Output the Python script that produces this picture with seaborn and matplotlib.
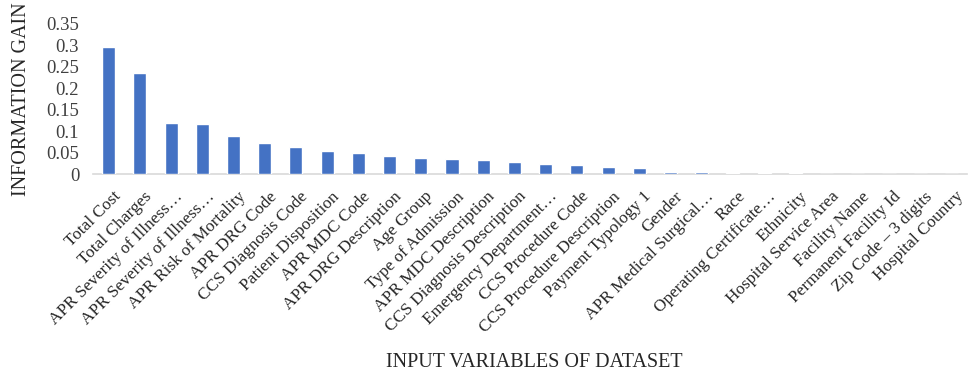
import matplotlib
matplotlib.use("Agg")
import matplotlib.pyplot as plt
import matplotlib.transforms as mtransforms
import seaborn as sns
import pandas as pd

variables = [
    "Total Cost", "Total Charges", "APR Severity of Illness…", "APR Severity of Illness…",
    "APR Risk of Mortality", "APR DRG Code", "CCS Diagnosis Code", "Patient Disposition",
    "APR MDC Code", "APR DRG Description", "Age Group", "Type of Admission",
    "APR MDC Description", "CCS Diagnosis Description", "Emergency Department…",
    "CCS Procedure Code", "CCS Procedure Description", "Payment Typology 1", "Gender",
    "APR Medical Surgical…", "Race", "Operating Certificate…", "Ethnicity",
    "Hospital Service Area", "Facility Name", "Permanent Facility Id",
    "Zip Code – 3 digits", "Hospital Country",
]
info_gain = [
    0.295, 0.236, 0.119, 0.117, 0.089, 0.073, 0.062, 0.054, 0.049, 0.043,
    0.038, 0.034, 0.033, 0.027, 0.023, 0.020, 0.016, 0.014, 0.005, 0.004,
    0.003, 0.002, 0.0015, 0.0, 0.0, 0.0, 0.0, 0.0,
]
y_ticks = [0, 0.05, 0.1, 0.15, 0.2, 0.25, 0.3, 0.35]
y_tick_labels = ["0", "0.05", "0.1", "0.15", "0.2", "0.25", "0.3", "0.35"]

sns.set_theme(style="white")
plt.rcParams["font.family"] = ["Liberation Serif", "DejaVu Serif"]

df = pd.DataFrame({"pos": range(len(variables)), "gain": info_gain})

fig, ax = plt.subplots(figsize=(9.69, 3.73), dpi=100)
fig.subplots_adjust(left=0.096, right=0.998, top=0.936, bottom=0.5335)

sns.barplot(data=df, x="pos", y="gain", color="#4472C4", width=0.42,
            saturation=1, ax=ax, zorder=3)

ax.set_xlim(-0.5, len(variables) - 0.5)
ax.set_ylim(0, 0.35)
ax.set_yticks(y_ticks)
ax.set_yticklabels(y_tick_labels, fontsize=13.5, color="#404040")
ax.set_xticks(range(len(variables)))
ax.set_xticklabels(variables, rotation=45, ha="right", rotation_mode="anchor",
                   fontsize=12.4, color="#262626")
ax.tick_params(axis="y", length=0, pad=10)
ax.tick_params(axis="x", length=0, pad=4)

# nudge the slanted category labels so their ends sit just under each bar
shift = mtransforms.ScaledTranslation(4 / 100, -9 / 100, fig.dpi_scale_trans)
for lbl in ax.get_xticklabels():
    lbl.set_transform(lbl.get_transform() + shift)

for side in ("top", "right", "left"):
    ax.spines[side].set_visible(False)
ax.spines["bottom"].set_color("#D9D9D9")
ax.spines["bottom"].set_linewidth(1.2)
ax.spines["bottom"].set_zorder(1)

ax.set_ylabel("INFORMATION GAIN", fontsize=14.5, color="#262626")
ax.yaxis.set_label_coords(-0.071, 0.5)
ax.set_xlabel("INPUT VARIABLES OF DATASET", fontsize=14.5, color="#262626")
ax.xaxis.set_label_coords(0.505, -1.19)

fig.savefig("out.png", dpi=100)
